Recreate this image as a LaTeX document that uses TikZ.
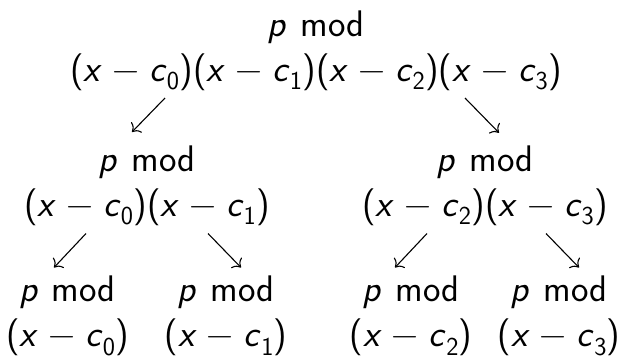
\documentclass[tikz,border=0pt]{standalone}
\usetikzlibrary{arrows.meta,calc}
\newcommand\myfac[1]{(\textit{x}\hspace{.27em}−\hspace{.27em}\textit{c}\textsubscript{#1})}
\newcommand\mypmod{\textit{p}\hspace{.05em} mod}
\tikzset{
  poly/.style={align=center,inner sep=0pt,font=\sffamily\fontsize{37}{45}\selectfont},
  arr/.style={-{Computer Modern Rightarrow[length=7pt,width=15pt]},line width=1.1pt}
}
\begin{document}
\begin{tikzpicture}[x=1pt,y=1pt]
\useasboundingbox (0,0) rectangle (624,-360);
\node[poly] (top) at (316,-50.3) {\mypmod\\\myfac{0}\myfac{1}\myfac{2}\myfac{3}};
\node[poly] (ml) at (147,-185.3) {\mypmod\\\myfac{0}\myfac{1}};
\node[poly] (mr) at (485,-185.3) {\mypmod\\\myfac{2}\myfac{3}};
\node[poly] (b0) at (67.5,-315.5) {\mypmod\\\myfac{0}};
\node[poly] (b1) at (226,-315.5) {\mypmod\\\myfac{1}};
\node[poly] (b2) at (411,-315.5) {\mypmod\\\myfac{2}};
\node[poly] (b3) at (559,-315.5) {\mypmod\\\myfac{3}};
\draw[arr] ($(top)+(-151,-47.7)$) -- ($(ml)+(-15,53.3)$);
\draw[arr] ($(top)+(149,-47.7)$) -- ($(mr)+(14,52.5)$);
\draw[arr] ($(ml)+(-61,-48.2)$) -- ($(b0)+(-13.5,48)$);
\draw[arr] ($(ml)+(61,-48.2)$) -- ($(b1)+(15,48)$);
\draw[arr] ($(mr)+(-58,-48.2)$) -- ($(b2)+(-16,48)$);
\draw[arr] ($(mr)+(61,-48.2)$) -- ($(b3)+(20,48)$);
\end{tikzpicture}
\end{document}
